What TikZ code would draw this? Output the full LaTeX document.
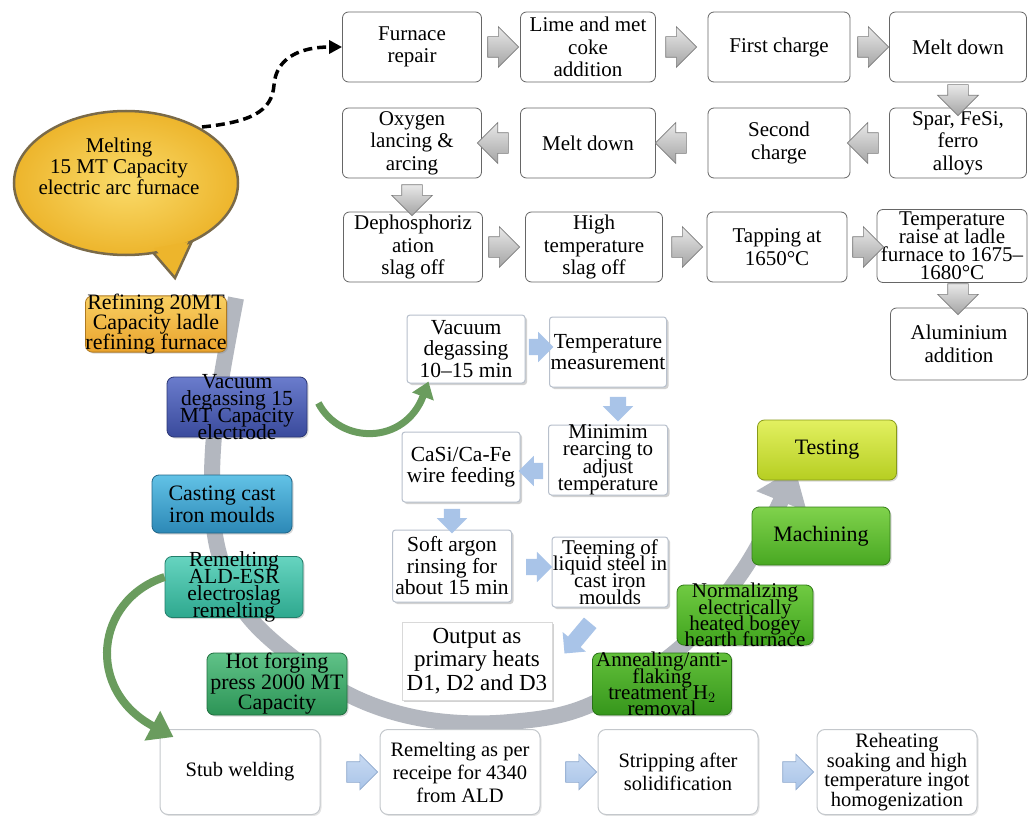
\documentclass[tikz,border=0pt]{standalone}
\usepackage{fontspec}
\setmainfont{Liberation Serif}
\usetikzlibrary{shapes.arrows,shadows,arrows.meta,calc}
\definecolor{refT}{HTML}{F9D062}
\definecolor{refB}{HTML}{E9A22C}
\definecolor{vdT}{HTML}{6A7CCC}
\definecolor{vdB}{HTML}{3A4A9C}
\definecolor{caT}{HTML}{62C2E6}
\definecolor{caB}{HTML}{2C88B6}
\definecolor{reT}{HTML}{66D4C0}
\definecolor{reB}{HTML}{2EA88E}
\definecolor{hoT}{HTML}{60C288}
\definecolor{hoB}{HTML}{2C9456}
\definecolor{teT}{HTML}{E2F060}
\definecolor{teB}{HTML}{B6CE22}
\definecolor{maT}{HTML}{80D24C}
\definecolor{maB}{HTML}{48A822}
\definecolor{noT}{HTML}{70CA42}
\definecolor{noB}{HTML}{40A41E}
\definecolor{anT}{HTML}{62C03A}
\definecolor{anB}{HTML}{36961C}
\definecolor{goldIn}{HTML}{FADB6A}
\definecolor{goldOut}{HTML}{EDB52C}
\definecolor{goldEdge}{HTML}{7A6A48}
\definecolor{arcgray}{HTML}{B3B7BF}
\definecolor{lblue}{HTML}{A9C4E8}
\definecolor{lblueT}{HTML}{C8DAF2}
\definecolor{lblueE}{HTML}{8EA8CC}
\definecolor{garrowT}{HTML}{E8E8E8}
\definecolor{garrowB}{HTML}{A4A4A4}
\definecolor{gedge}{HTML}{7C7C7C}
\definecolor{greenarc}{HTML}{6A9C5E}
\definecolor{wedge}{HTML}{B8C0CC}
\definecolor{bedge}{HTML}{C4C8CC}
\tikzset{
 sz/.style 2 args={minimum width=#1, minimum height=#2},
 topbox/.style={draw=black!60, line width=0.8pt, rounded corners=6pt, fill=white, align=center, inner sep=0pt, font=\fontsize{21}{22.5}\selectfont},
 wbox/.style={draw=wedge, line width=1pt, rounded corners=3pt, fill=white, align=center, inner sep=0pt,
   drop shadow={shadow xshift=2pt, shadow yshift=-2pt, opacity=0.35}, font=\fontsize{21.5}{21.5}\selectfont},
 bbox/.style={draw=bedge, line width=1pt, rounded corners=8pt, fill=white, align=center, inner sep=0pt,
   drop shadow={shadow xshift=1.5pt, shadow yshift=-1.5pt, opacity=0.2}, font=\fontsize{20.5}{23}\selectfont},
 cbox/.style 2 args={rounded corners=7pt, top color=#1, bottom color=#2, draw=#2!75!black, line width=0.8pt,
   align=center, inner sep=0pt, drop shadow={shadow xshift=1.5pt, shadow yshift=-1.5pt, opacity=0.3},
   font=\fontsize{21.5}{17}\selectfont},
 garrow/.style={single arrow, single arrow head extend=10pt, inner sep=10pt, minimum height=28pt, minimum width=40pt,
   top color=garrowT, bottom color=garrowB, draw=gedge, line width=0.6pt, shape border rotate=#1},
 barrow/.style={single arrow, single arrow head extend=7pt, inner sep=8pt, minimum height=22pt, minimum width=30pt,
   fill=lblue, draw=none, shape border rotate=#1},
 bbarrow/.style={single arrow, single arrow head extend=7.5pt, inner sep=10pt, minimum height=24pt, minimum width=35pt,
   top color=lblueT, bottom color=lblue, draw=lblueE, line width=0.6pt, shape border rotate=#1},
}
\begin{document}
\lineskiplimit=-30pt
\lineskip=0pt
\begin{tikzpicture}[x=1pt,y=-1pt]
\useasboundingbox (0,0) rectangle (1029,816);
\fill[white] (0,0) rectangle (1029,816);

% big grey arc
\draw[arcgray, line width=16pt, -{Triangle[length=36pt, width=52pt]}]
  plot[smooth, tension=0.6] coordinates {(236,298) (218,400) (212,480) (218,550) (245,612) (300,663) (360,700) (430,720) (510,722) (590,705) (680,648) (740,575) (774,515) (795,468)};

% speech bubble
\draw[line width=2.5pt, draw=goldEdge, fill=goldOut] (150,249) -- (175,278) -- (192,241) -- cycle;
\draw[line width=2.5pt, draw=goldEdge, inner color=goldIn, outer color=goldOut] (126,183) ellipse [x radius=112, y radius=72];
\fill[goldOut] (154,248) -- (175,271) -- (188,242) -- cycle;
\node[align=center, font=\fontsize{21}{21}\selectfont] (bubble) at (119,166) {Melting\\15 MT Capacity\\electric arc furnace};
\coordinate (bstart) at (202,127);

% top rows
\node[topbox, sz={139pt}{70pt}] (furnace) at (412,47) {Furnace\\repair};
\node[topbox, sz={135pt}{70pt}] (lime) at (588,47) {Lime and met\\coke\\addition};
\node[topbox, sz={142pt}{70pt}] (first) at (779,47) {First charge};
\node[topbox, sz={137pt}{70pt}] (melt1) at (958,47) {Melt down};
\node[topbox, sz={139pt}{70pt}] (oxy) at (412,143) {Oxygen\\lancing \&\\arcing};
\node[topbox, sz={135pt}{70pt}] (melt2) at (588,143) {Melt down};
\node[topbox, sz={142pt}{70pt}] (second) at (779,143) {Second\\charge};
\node[topbox, sz={137pt}{70pt}] (spar) at (958,143) {Spar, FeSi,\\ferro\\alloys};
\node[topbox, sz={139pt}{70pt}] (deph) at (413,247) {Dephosphoriz\\ation\\slag off};
\node[topbox, sz={137pt}{70pt}] (high) at (594,247) {High\\temperature\\slag off};
\node[topbox, sz={140pt}{70pt}] (tap) at (777,247) {Tapping at\\1650°C};
\node[topbox, sz={150pt}{73pt}, font=\fontsize{21}{18}\selectfont] (traise) at (952,246) {Temperature\\raise at ladle\\furnace to 1675–\\1680°C};
\node[topbox, sz={137pt}{72pt}] (alu) at (959,344) {Aluminium\\addition};

\node[garrow=0] (a1) at (498,47) {};
\node[garrow=0] (a2) at (676,47) {};
\node[garrow=0] (a3) at (868,47) {};
\node[garrow=270, minimum height=25pt] (a4) at (958,95) {};
\node[garrow=180] (a5) at (868,143) {};
\node[garrow=180] (a6) at (676,143) {};
\node[garrow=180] (a7) at (498,143) {};
\node[garrow=270, minimum height=30pt] (a8) at (412,195) {};
\node[garrow=0] (a9) at (499,247) {};
\node[garrow=0] (a10) at (682,247) {};
\node[garrow=0, minimum height=26pt] (a11) at (863,247) {};
\node[garrow=270, minimum height=27pt] (a12) at (958,294) {};

% left coloured boxes
\node[cbox={refT}{refB}, sz={141pt}{56pt}, inner ysep=-2pt, font=\fontsize{22}{20}\selectfont] (refine) at (156,324) {Refining 20MT\\Capacity ladle\\refining furnace};
\node[cbox={vdT}{vdB}, sz={140pt}{60pt}, inner ysep=-6pt] (vd15) at (237,407) {Vacuum\\degassing 15\\MT Capacity\\electrode};
\node[cbox={caT}{caB}, sz={140pt}{58pt}, font=\fontsize{22}{22}\selectfont] (cast) at (222,504) {Casting cast\\iron moulds};
\node[cbox={reT}{reB}, sz={138pt}{61pt}, inner ysep=-6pt] (remelt) at (234,587) {Remelting\\ALD-ESR\\electroslag\\remelting};
\node[cbox={hoT}{hoB}, sz={140pt}{62pt}, font=\fontsize{22}{20.5}\selectfont] (hot) at (277,684) {Hot forging\\press 2000 MT\\Capacity};

% right coloured boxes
\node[cbox={teT}{teB}, sz={139pt}{60pt}, font=\fontsize{22}{22}\selectfont] (testing) at (827,450) {Testing};
\node[cbox={maT}{maB}, sz={138pt}{58pt}, font=\fontsize{22}{22}\selectfont] (machining) at (821,536) {Machining};
\node[cbox={noT}{noB}, sz={136pt}{60pt}, inner ysep=-4pt, font=\fontsize{21}{16.3}\selectfont] (normal) at (745,615) {Normalizing\\electrically\\heated bogey\\hearth furnace};
\node[cbox={anT}{anB}, sz={139pt}{62pt}, inner ysep=-3pt, font=\fontsize{21}{16.3}\selectfont] (anneal) at (662,684) {Annealing/anti-\\flaking\\treatment H$_2$\\removal};

% middle white boxes
\node[wbox, sz={118pt}{68pt}] (vd10) at (466,349) {Vacuum\\degassing\\10–15 min};
\node[wbox, sz={117pt}{70pt}] (tm) at (608,352) {Temperature\\measurement};
\node[wbox, sz={119pt}{70pt}, inner ysep=-1pt, font=\fontsize{21}{17.5}\selectfont] (mr) at (608,460) {Minimim\\rearcing to\\adjust\\temperature};
\node[wbox, sz={118pt}{70pt}] (casi) at (461,467) {CaSi/Ca-Fe\\wire feeding};
\node[wbox, sz={119pt}{72pt}] (soft) at (452,566) {Soft argon\\rinsing for\\about 15 min};
\node[wbox, sz={116pt}{70pt}, font=\fontsize{21}{16.8}\selectfont] (teem) at (610,572) {Teeming of\\liquid steel in\\cast iron\\moulds};
\node[wbox, rounded corners=0pt, draw=black!15, sz={150pt}{78pt}, font=\fontsize{23}{23.5}\selectfont] (out) at (477,661) {Output as\\primary heats\\D1, D2 and D3};

\node[barrow=0] (m1) at (537,347) {};
\node[barrow=270, minimum height=20pt] (m2) at (618,405) {};
\node[barrow=180, minimum height=24pt] (m3) at (535,471) {};
\node[barrow=270, minimum height=20pt] (m4) at (452,517) {};
\node[barrow=0, minimum height=26pt] (m5) at (535,567) {};
\node[barrow=0, rotate=230, minimum height=40pt] (m6) at (580,635) {};

% bottom row
\node[bbox, sz={160pt}{85pt}] (stub) at (240,772) {Stub welding};
\node[bbox, sz={160pt}{85pt}] (remas) at (460,772) {Remelting as per\\receipe for 4340\\from ALD};
\node[bbox, sz={160pt}{85pt}] (strip) at (678,772) {Stripping after\\solidification};
\node[bbox, sz={160pt}{85pt}, font=\fontsize{20.5}{19.5}\selectfont] (reheat) at (897,772) {Reheating\\soaking and high\\temperature ingot\\homogenization};
\node[bbarrow=0] (b1) at (357,772) {};
\node[bbarrow=0] (b2) at (576,772) {};
\node[bbarrow=0] (b3) at (793,772) {};

% dashed arrow from bubble
\draw[line width=3.5pt, dash pattern=on 9pt off 5pt, -{Triangle[length=13pt, width=13pt]}]
  (bstart) .. controls (250,122) and (272,112) .. (274,85) .. controls (276,58) and (300,47) .. (furnace.west);

% green curved arrows
\draw[greenarc, line width=7pt, -{Triangle[length=16pt, width=22pt]}]
  ($(vd15.east)+(11,-4)$) .. controls (340,445) and (405,445) .. ($(vd10.south west)+(22,-2)$);
\draw[greenarc, line width=8pt, -{Triangle[length=24pt, width=32pt]}]
  ($(remelt.west)+(0,-10)$) .. controls (95,600) and (85,690) .. ($(stub.north west)+(14,8)$);
\end{tikzpicture}
\end{document}
